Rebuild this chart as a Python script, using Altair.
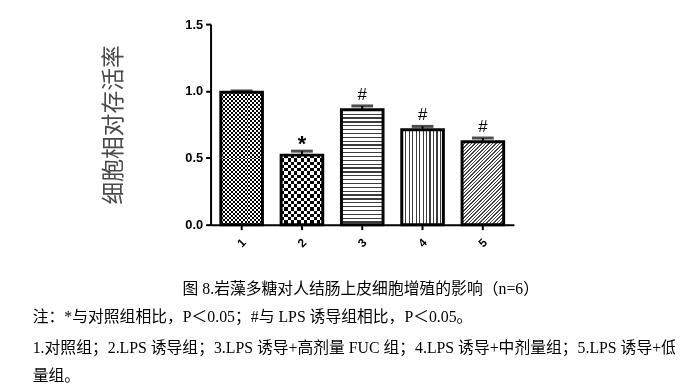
import altair as alt
import pandas as pd
import math

# ---- data ----
groups = ["1", "2", "3", "4", "5"]
means = [0.99, 0.52, 0.86, 0.71, 0.62]
errors = [0.01, 0.03, 0.028, 0.025, 0.028]
signs = ["", "*", "#", "#", "#"]

y_title = "细胞相对存活率"
caption1 = "图 8.岩藻多糖对人结肠上皮细胞增殖的影响（n=6）"
caption2 = "注：*与对照组相比，P＜0.05；#与 LPS 诱导组相比，P＜0.05。"
caption3 = "1.对照组；2.LPS 诱导组；3.LPS 诱导+高剂量 FUC 组；4.LPS 诱导+中剂量组；5.LPS 诱导+低剂"
caption4 = "量组。"

df = pd.DataFrame({
    "group": groups,
    "mean": means,
    "upper": [m + e for m, e in zip(means, errors)],
    "sign": signs,
})

# ---- layout ----
W, H = 307, 203
YMAX = 1.5
P_IN, P_OUT = 0.31, 0.17
step = W / (len(groups) - P_IN + 2 * P_OUT)
bar_w = step * (1 - P_IN)
px_per_unit = H / YMAX


def stripe_stops(n, frac, c_on, c_off):
    stops = []
    i = 0
    while i / n < 1:
        a = i / n
        b = min((i + frac) / n, 1.0)
        c = min((i + 1) / n, 1.0)
        stops += [
            {"offset": a, "color": c_on},
            {"offset": b, "color": c_on},
            {"offset": b, "color": c_off},
            {"offset": c, "color": c_off},
        ]
        i += 1
    return stops


def grad(n, frac, c_on, c_off, x2, y2):
    return {
        "gradient": "linear",
        "x1": 0, "y1": 0, "x2": x2, "y2": y2,
        "stops": stripe_stops(n, frac, c_on, c_off),
    }


x_enc = alt.X(
    "group:N",
    sort=groups,
    scale=alt.Scale(paddingInner=P_IN, paddingOuter=P_OUT),
    axis=alt.Axis(
        title=None, labelAngle=-45, labelAlign="center", labelBaseline="middle",
        labelFont="Liberation Sans", labelFontWeight="bold", labelFontSize=12,
        labelColor="black", labelPadding=13, tickSize=5, tickWidth=2,
        tickColor="black", domainColor="black", domainWidth=2, grid=False,
    ),
)
y_enc = alt.Y(
    "mean:Q",
    scale=alt.Scale(domain=[0, YMAX], nice=False),
    axis=alt.Axis(
        values=[0, 0.5, 1.0, 1.5], format=".1f", title=y_title,
        titleFont="Noto Sans CJK SC", titleFontSize=23, titleFontWeight="normal",
        titleColor="#4a4a4a", titlePadding=60,
        labelFont="Liberation Sans", labelFontWeight="bold", labelFontSize=13,
        labelColor="black", labelPadding=3, tickSize=5, tickWidth=2,
        tickColor="black", domainColor="black", domainWidth=2, grid=False,
    ),
)

base = alt.Chart(df)
layers = []


def bar_layer(g, fill, blend=None):
    kw = dict(fill=fill, strokeWidth=0)
    if blend:
        kw["blend"] = blend
    return base.transform_filter(alt.datum.group == g).mark_bar(**kw).encode(
        x=x_enc, y=y_enc)


# bar 1 & 2: checkerboards (vertical stripes XOR horizontal stripes)
for g, sq in [("1", 2.0), ("2", 3.3)]:
    v = means[groups.index(g)]
    h = v * px_per_unit
    layers.append(bar_layer(g, grad(bar_w / (2 * sq), 0.5, "black", "white", 1, 0)))
    layers.append(bar_layer(g, grad(h / (2 * sq), 0.5, "white", "rgba(255,255,255,0)", 0, 1),
                            blend="difference"))

# bar 3: horizontal lines
v3 = means[2]
layers.append(bar_layer("3", grad(v3 * px_per_unit / 3.9, 0.33, "#3c3c3c", "white", 0, 1)))
# bar 4: vertical lines
layers.append(bar_layer("4", grad(bar_w / 3.5, 0.35, "#3c3c3c", "white", 1, 0)))
# bar 5: diagonal hatch
v5 = means[4]
h5 = v5 * px_per_unit
r = h5 / bar_w
n5 = bar_w * (1 + r * r) / (2.5 * math.sqrt(2))
layers.append(bar_layer("5", grad(n5, 0.45, "#444444", "white", 1, r)))

# outlines
layers.append(base.mark_bar(fill="transparent", stroke="black", strokeWidth=3).encode(
    x=x_enc, y=y_enc))

# error bars
layers.append(base.mark_rule(color="black", strokeWidth=2).encode(
    x=alt.X("group:N", sort=groups), y="mean:Q", y2="upper:Q"))
layers.append(base.mark_tick(color="black", size=22, thickness=3).encode(
    x=alt.X("group:N", sort=groups), y="upper:Q"))

# significance marks
layers.append(base.transform_filter(alt.datum.sign == "*").mark_text(
    font="Liberation Sans", fontSize=22, fontWeight="bold", baseline="alphabetic",
    dy=0, color="black").encode(
    x=alt.X("group:N", sort=groups), y="upper:Q", text="sign:N"))
layers.append(base.transform_filter(alt.datum.sign == "#").mark_text(
    font="Liberation Sans", fontSize=17, baseline="alphabetic",
    dy=-6, color="black").encode(
    x=alt.X("group:N", sort=groups), y="upper:Q", text="sign:N"))

# captions
cap_font = "Liberation Serif, Noto Sans CJK SC"


def caption(text, x, y, align):
    return alt.Chart(pd.DataFrame({"t": [text]})).mark_text(
        font=cap_font, fontSize=16, align=align, baseline="middle", color="black"
    ).encode(x=alt.value(x), y=alt.value(y), text="t:N")


layers.append(caption(caption1, 152, 268, "center"))
layers.append(caption(caption2, -180, 296, "left"))
layers.append(caption(caption3, -180, 328, "left"))
layers.append(caption(caption4, -180, 356, "left"))

chart = alt.layer(*layers).properties(
    width=W, height=H,
    autosize=alt.AutoSizeParams(type="none"),
    padding={"left": 205, "top": 14, "right": 163, "bottom": 163},
).configure(background="white").configure_view(stroke=None, strokeWidth=0)

chart.save("out.html", embed_options={"renderer": "svg", "actions": False})
